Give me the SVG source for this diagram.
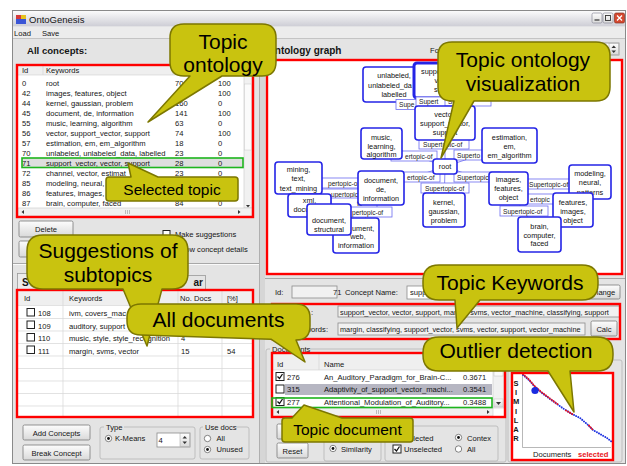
<svg xmlns="http://www.w3.org/2000/svg" width="627" height="466" viewBox="0 0 627 466">
<defs>
<linearGradient id="tbar" x1="0" y1="0" x2="0" y2="1"><stop offset="0" stop-color="#fbfbfb"/><stop offset="1" stop-color="#cdcdd5"/></linearGradient>
<linearGradient id="btn" x1="0" y1="0" x2="0" y2="1"><stop offset="0" stop-color="#fdfdfd"/><stop offset="1" stop-color="#d9d9d9"/></linearGradient>
<clipPath id="kw1"><rect x="338" y="306" width="281" height="11"/></clipPath>
<clipPath id="kw2"><rect x="338" y="323" width="247" height="12"/></clipPath>
</defs>
<style>
text{font-family:"Liberation Sans",Arial,Helvetica,sans-serif;fill:#151515}
.ui{font-size:7.6px}
.b{font-weight:bold}
.red{fill:none;stroke:#f00;stroke-width:2.4}
.grn{fill:none;stroke:#1db51d;stroke-width:1.6}
.hdr{fill:#efefef}
.grid{stroke:#d6d6d6;stroke-width:0.7}
.btn{fill:url(#btn);stroke:#7a7a7a;stroke-width:0.8}
.grp{fill:none;stroke:#b4b4b4;stroke-width:0.8}
.chk{fill:#fff;stroke:#222;stroke-width:1}
.tick{fill:none;stroke:#111;stroke-width:1.3}
.rad{fill:#fff;stroke:#666;stroke-width:0.8}
.dot{fill:#111}
.sb{fill:#f1f1f1;stroke:#c8c8c8;stroke-width:0.6}
.node{fill:#fff;stroke:#2424e6;stroke-width:1.6}
.sel{stroke-width:3}
.nt{font-size:7.3px;text-anchor:middle;fill:#111}
.ns{font-size:7.3px;fill:#111}
.lab{fill:#fff;stroke:#6c6cf0;stroke-width:0.8}
.lt{font-size:6.6px;fill:#222}
.edge{stroke:#6c6cf0;stroke-width:0.8;fill:none}
.callout{fill:#c9c30f;stroke:#7c7700;stroke-width:1.5;stroke-linejoin:round}
.ct{font-size:21px;text-anchor:middle;fill:#000}
.cs{font-size:15.5px;text-anchor:middle;fill:#000}
</style>

<rect width="627" height="466" fill="#fff"/>

<!-- application window -->
<g id="window">
  <rect x="12.5" y="10.5" width="613" height="453" fill="#e4e4e4" stroke="#8a8a8a"/>
  <rect x="13" y="11" width="612" height="15.5" fill="url(#tbar)"/>
  <rect x="16" y="15" width="5" height="4" fill="#d43a3a"/>
  <rect x="21" y="15" width="5" height="4" fill="#e6c11e"/>
  <rect x="16" y="19" width="10" height="5" fill="#3a55d6"/>
  <text x="29" y="22.5" font-size="9.5">OntoGenesis</text>
  <rect x="592" y="13" width="10" height="10" rx="1.5" fill="url(#btn)" stroke="#8a8a9a" stroke-width="0.7"/>
  <line x1="594.5" y1="20" x2="599.5" y2="20" stroke="#333" stroke-width="1.2"/>
  <rect x="603" y="13" width="10" height="10" rx="1.5" fill="url(#btn)" stroke="#8a8a9a" stroke-width="0.7"/>
  <rect x="605.5" y="15.5" width="5" height="5" fill="none" stroke="#333" stroke-width="0.9"/>
  <rect x="614.5" y="13" width="10" height="10" rx="1.5" fill="#d5482f" stroke="#8a3020" stroke-width="0.7"/>
  <path d="M617 15.5 L622 20.5 M622 15.5 L617 20.5" stroke="#fff" stroke-width="1.3"/>
  <rect x="13" y="26.5" width="612" height="12" fill="#ececec"/>
  <text class="ui" x="14" y="35.5">Load</text>
  <text class="ui" x="42" y="35.5">Save</text>
  <line x1="13" y1="38.5" x2="625" y2="38.5" stroke="#c4c4c4"/>
  <rect x="259" y="39" width="6" height="424" fill="#d6d6d6"/>
  <line x1="259.5" y1="39" x2="259.5" y2="463" stroke="#a4a4a4" stroke-width="0.8"/>
  <line x1="13" y1="263.5" x2="259" y2="263.5" stroke="#a8a8a8"/>
  <line x1="13" y1="264.5" x2="259" y2="264.5" stroke="#fafafa"/>
  <line x1="265" y1="278.5" x2="625" y2="278.5" stroke="#a8a8a8"/>
</g>

<!-- concept table -->
<g id="concepts">
  <text x="27" y="54" font-size="9.6" class="b">All concepts:</text>
  <rect x="18" y="66" width="234" height="150" fill="#fff"/>
  <rect class="hdr" x="18" y="66" width="226" height="9"/>
  <path class="grid" d="M43 66 V75 M173 66 V75 M215 66 V75 M18 75 H244"/>
  <text class="ui" x="22" y="73">Id</text>
  <text class="ui" x="46" y="73">Keywords</text>
  <rect x="22" y="158" width="221" height="9.5" fill="#dedede"/>
  <g class="ui">
    <text x="22" y="85.5">0</text><text x="46" y="85.5">root</text><text x="175" y="85.5">70</text><text x="218" y="85.5">100</text>
    <text x="22" y="95.5">42</text><text x="46" y="95.5">images, features, object</text><text x="218" y="95.5">100</text>
    <text x="22" y="105.5">44</text><text x="46" y="105.5">kernel, gaussian, problem</text><text x="175" y="105.5">160</text><text x="218" y="105.5">0</text>
    <text x="22" y="115.5">45</text><text x="46" y="115.5">document, de, information</text><text x="175" y="115.5">141</text><text x="218" y="115.5">100</text>
    <text x="22" y="125.5">55</text><text x="46" y="125.5">music, learning, algorithm</text><text x="175" y="125.5">63</text><text x="218" y="125.5">0</text>
    <text x="22" y="135.5">56</text><text x="46" y="135.5">vector, support_vector, support</text><text x="175" y="135.5">74</text><text x="218" y="135.5">100</text>
    <text x="22" y="145.5">57</text><text x="46" y="145.5">estimation, em, em_algorithm</text><text x="175" y="145.5">18</text><text x="218" y="145.5">0</text>
    <text x="22" y="155.5">70</text><text x="46" y="155.5">unlabeled, unlabeled_data, labelled</text><text x="175" y="155.5">23</text><text x="218" y="155.5">0</text>
    <text x="22" y="165.5">71</text><text x="46" y="165.5">support_vector, vector, support</text><text x="175" y="165.5">28</text><text x="218" y="165.5">0</text>
    <text x="22" y="175.5">72</text><text x="46" y="175.5">channel, vector, estimat</text><text x="175" y="175.5">23</text><text x="218" y="175.5">0</text>
    <text x="22" y="185.5">85</text><text x="46" y="185.5">modeling, neural, patterns</text>
    <text x="22" y="195.5">86</text><text x="46" y="195.5">features, images, object</text>
    <text x="22" y="205.5">87</text><text x="46" y="205.5">brain, computer, faced</text><text x="175" y="205.5">84</text><text x="218" y="205.5">0</text>
  </g>
  <rect class="sb" x="244" y="66" width="8" height="142"/>
  <rect x="244.5" y="84" width="7" height="66" fill="#fbfbfb" stroke="#c8c8c8" stroke-width="0.5"/>
  <path d="M246 205 L250 205 L248 207.5 Z" fill="#333"/>
  <rect class="sb" x="18" y="208" width="234" height="8"/>
  <path d="M24 210 L24 214 L21.5 212 Z M238 210 L238 214 L240.5 212 Z" fill="#333"/>
  <path d="M125.5 210 V214 M127.5 210 V214 M129.5 210 V214" stroke="#999" stroke-width="0.6"/>
  <rect class="red" x="17" y="65" width="236" height="152"/>
  <rect class="grn" x="22" y="158" width="221" height="9.5"/>
  <rect class="btn" x="19" y="221" width="54" height="16" rx="1.5"/>
  <text class="ui" x="46" y="232" text-anchor="middle">Delete</text>
  <rect class="btn" x="19" y="241" width="54" height="16" rx="1.5"/>
  <rect class="chk" x="163" y="230.5" width="7" height="7"/>
  <text class="ui" x="175" y="237">Make suggestions</text>
  <rect class="chk" x="163" y="245.5" width="7" height="7"/>
  <text class="ui" x="176" y="252">Show concept details</text>
</g>

<!-- subtopic suggestions -->
<g id="suggestions">
  <rect x="17.5" y="273.5" width="92" height="17" fill="#ececec" stroke="#9a9a9a" stroke-width="0.8"/>
  <rect x="150.5" y="275.5" width="55" height="15" fill="#e4e4e4" stroke="#9a9a9a" stroke-width="0.8"/>
  <text x="22" y="286" font-size="10" class="b">S</text>
  <text x="203" y="286" font-size="10" class="b" text-anchor="end">ar</text>
  <rect x="18" y="291" width="234" height="125" fill="#fff"/>
  <rect class="hdr" x="18" y="291" width="234" height="14"/>
  <path class="grid" d="M63 291 V416 M178 291 V416 M222 291 V416 M18 305.5 H252 M18 318.5 H252 M18 331 H252 M18 343.5 H252 M18 356 H252 M18 368.5 H252 M18 381 H252 M18 393.5 H252 M18 406 H252"/>
  <g class="ui">
    <text x="24" y="301">Id</text><text x="69" y="301">Keywords</text><text x="180" y="301">No. Docs</text><text x="227" y="301">[%]</text>
    <text x="38" y="316">108</text><text x="69" y="316">ivm, covers_mac</text>
    <text x="38" y="328.5">109</text><text x="69" y="328.5">auditory, support</text>
    <text x="38" y="341">110</text><text x="69" y="341">music, style, style_recognition</text><text x="181" y="341">4</text>
    <text x="38" y="353.5">111</text><text x="69" y="353.5">margin, svms, vector</text><text x="181" y="353.5">15</text><text x="227" y="353.5">54</text>
  </g>
  <rect class="chk" x="27" y="308.5" width="7.5" height="7.5"/>
  <rect class="chk" x="27" y="321" width="7.5" height="7.5"/>
  <rect class="chk" x="27" y="333.5" width="7.5" height="7.5"/>
  <rect class="chk" x="27" y="346" width="7.5" height="7.5"/>
  <rect class="red" x="17" y="290" width="236" height="127"/>
  <rect class="btn" x="23" y="425" width="67" height="15" rx="1.5"/>
  <text class="ui" x="56.5" y="435.5" text-anchor="middle">Add Concepts</text>
  <rect class="btn" x="23" y="445" width="67" height="15" rx="1.5"/>
  <text class="ui" x="56.5" y="455.5" text-anchor="middle">Break Concept</text>
  <rect class="grp" x="100" y="427" width="95" height="32" rx="2"/>
  <rect x="104" y="423" width="20" height="8" fill="#e4e4e4"/>
  <text class="ui" x="106" y="429.5">Type</text>
  <circle class="rad" cx="108.5" cy="438.5" r="3.2"/><circle class="dot" cx="108.5" cy="438.5" r="1.4"/>
  <text class="ui" x="115" y="441">K-Means</text>
  <rect x="157" y="433" width="33" height="14" fill="#fff" stroke="#8c8c8c" stroke-width="0.8"/>
  <text class="ui" x="158.5" y="443">4</text>
  <rect x="180" y="433.5" width="9.5" height="13" fill="url(#btn)" stroke="#a0a0a0" stroke-width="0.5"/>
  <path d="M182.5 438.5 L187 438.5 L184.75 436 Z M182.5 441.5 L187 441.5 L184.75 444 Z" fill="#333"/>
  <rect class="grp" x="200" y="427" width="49" height="32" rx="2"/>
  <rect x="203" y="423" width="33" height="8" fill="#e4e4e4"/>
  <text class="ui" x="205" y="429.5">Use docs</text>
  <circle class="rad" cx="207.5" cy="438.5" r="3.2"/>
  <text class="ui" x="216.5" y="441">All</text>
  <circle class="rad" cx="207.5" cy="449.5" r="3.2"/><circle class="dot" cx="207.5" cy="449.5" r="1.4"/>
  <text class="ui" x="216.5" y="452">Unused</text>
</g>

<!-- ontology graph panel -->
<g id="graph-panel">
  <text x="267" y="53.5" font-size="10" class="b">Ontology graph</text>
  <text class="ui" x="430" y="53">Fo</text>
  <rect x="570" y="43" width="49" height="12" fill="#fff" stroke="#8c8c8c" stroke-width="0.8"/>
  <rect x="609" y="43.5" width="9.5" height="11" fill="url(#btn)" stroke="#a0a0a0" stroke-width="0.5"/>
  <path d="M611.5 48 L616 48 L613.75 45.5 Z M611.5 50.5 L616 50.5 L613.75 53 Z" fill="#333"/>
  <rect x="267" y="60" width="355" height="214" fill="#fff"/>
</g>

<!-- connectors between topics -->
<g id="connectors">
  <g class="edge">
    <line x1="445" y1="166.5" x2="381.5" y2="143.5"/>
    <line x1="445" y1="166.5" x2="509.5" y2="145.5"/>
    <line x1="445" y1="166.5" x2="445" y2="123"/>
    <line x1="445" y1="123" x2="448" y2="80.5"/>
    <line x1="445" y1="123" x2="394" y2="84.5"/>
    <line x1="445" y1="166.5" x2="381" y2="188"/>
    <line x1="445" y1="166.5" x2="444" y2="210"/>
    <line x1="445" y1="166.5" x2="508.5" y2="188.5"/>
    <line x1="381" y1="188" x2="298.5" y2="178"/>
    <line x1="381" y1="188" x2="309.5" y2="200"/>
    <line x1="381" y1="188" x2="329" y2="219.5"/>
    <line x1="381" y1="188" x2="356" y2="235.5"/>
    <line x1="508.5" y1="188.5" x2="590" y2="182"/>
    <line x1="508.5" y1="188.5" x2="573" y2="210"/>
    <line x1="508.5" y1="188.5" x2="539.5" y2="234.5"/>
  </g>
  <g id="edge-labels">
    <rect class="lab" x="391" y="151" width="46" height="10"/><text class="lt" x="405" y="158.5">ertopic-of</text>
    <rect class="lab" x="454" y="150" width="46" height="10"/><text class="lt" x="457" y="157.5">Superto</text>
    <rect class="lab" x="419" y="139" width="50" height="10"/><text class="lt" x="423" y="146.5">Supertopic-of</text>
    <rect class="lab" x="393" y="172" width="47" height="10"/><text class="lt" x="407" y="179.5">ertopic-of</text>
    <rect class="lab" x="454" y="172" width="46" height="10"/><text class="lt" x="457" y="179.5">Supertopic</text>
    <rect class="lab" x="421" y="183" width="48" height="10"/><text class="lt" x="425" y="190.5">Supertopic-of</text>
    <rect class="lab" x="318" y="178" width="46" height="10"/><text class="lt" x="328" y="185.5">pertopic-o</text>
    <rect class="lab" x="320" y="189" width="44" height="10"/><text class="lt" x="331" y="196.5">upertopic-</text>
    <rect class="lab" x="331" y="198" width="46" height="10"/><text class="lt" x="357" y="205.5">to</text>
    <rect class="lab" x="340" y="207" width="52" height="10"/><text class="lt" x="352" y="214.5">pertopic-of</text>
    <rect class="lab" x="526" y="179" width="46" height="10"/><text class="lt" x="529" y="186.5">Supertopic-of</text>
    <rect class="lab" x="515" y="194" width="45" height="10"/><text class="lt" x="530" y="201.5">ertopic</text>
    <rect class="lab" x="500" y="206" width="48" height="10"/><text class="lt" x="503" y="213.5">Supertopic-of</text>
  </g>
</g>

<!-- topic nodes -->
<g id="n-music"><rect class="node" x="361" y="128" width="41" height="31" rx="3"/><text class="nt" x="381.5" y="139.5">music,</text><text class="nt" x="381.5" y="148.5">learning,</text><text class="nt" x="381.5" y="157">algorithm</text></g>
<g id="n-estimation"><rect class="node" x="482" y="128" width="55" height="35" rx="3"/><text class="nt" x="509.5" y="139.5">estimation,</text><text class="nt" x="509.5" y="148.5">em,</text><text class="nt" x="509.5" y="157.5">em_algorithm</text></g>
<g id="n-unlabeled"><rect class="node" x="363" y="67" width="62" height="35" rx="3"/><text class="nt" x="394" y="78">unlabeled,</text><text class="nt" x="390" y="87.5">unlabeled_da</text><text class="nt" x="394" y="97">labelled</text></g>
<g id="l-unlabeled"><rect class="lab" x="396" y="99.5" width="46" height="10"/><text class="lt" x="399" y="106.5">Supe</text></g>
<g id="n-support-vector"><rect class="node sel" x="414" y="63" width="68" height="35" rx="3"/><text class="ns" x="421" y="73.5">suppo</text><text class="ns" x="434.5" y="82.5">v</text><text class="ns" x="434" y="91.5">s</text></g>
<g id="l-support-vector"><rect class="lab" x="416" y="97" width="46" height="9.5"/><text class="lt" x="419" y="104">Supert</text>
<rect class="lab" x="445" y="96.5" width="46" height="9.5"/><text class="lt" x="448" y="103.5">Supe</text></g>
<g id="n-vector"><rect class="node" x="415" y="106" width="60" height="34" rx="3"/><text class="nt" x="445" y="116.5">vector,</text><text class="nt" x="445" y="125.5">support_vector,</text><text class="nt" x="445" y="135">support</text></g>
<g id="n-root"><rect class="node" x="433" y="159" width="24" height="15" rx="3"/><text class="nt" x="445" y="169">root</text></g>
<g id="n-mining"><rect class="node" x="275" y="162" width="47" height="32" rx="3"/><text class="nt" x="298.5" y="171.5">mining,</text><text class="nt" x="298.5" y="181">text,</text><text class="nt" x="298.5" y="190.5">text_mining</text></g>
<g id="n-xml"><rect class="node" x="288" y="194" width="43" height="23" rx="3"/><text class="nt" x="309.5" y="202.5">xml,</text><text class="nt" x="309.5" y="211.5">document</text></g>
<g id="n-web"><rect class="node" x="333" y="218" width="46" height="35" rx="3"/><text class="ns" x="352" y="230.5">ument,</text><text class="nt" x="358" y="239">web,</text><text class="nt" x="356" y="247.5">information</text></g>
<g id="n-structural"><rect class="node" x="307" y="204" width="44" height="31" rx="3"/><text class="nt" x="329" y="222.5">document,</text><text class="nt" x="329" y="231.5">structural</text></g>
<g id="n-document"><rect class="node" x="358" y="171" width="46" height="34" rx="3"/><text class="nt" x="381" y="182.5">document,</text><text class="nt" x="381" y="191.5">de,</text><text class="nt" x="381" y="200.5">information</text></g>
<g id="n-kernel"><rect class="node" x="423" y="193" width="42" height="34" rx="3"/><text class="nt" x="444" y="204.5">kernel,</text><text class="nt" x="444" y="213.5">gaussian,</text><text class="nt" x="444" y="222.5">problem</text></g>
<g id="n-modeling"><rect class="node" x="569" y="165" width="42" height="34" rx="3"/><text class="nt" x="590" y="175.5">modeling,</text><text class="nt" x="590" y="185">neural,</text><text class="nt" x="590" y="194.5">patterns</text></g>
<g id="n-images"><rect class="node" x="489" y="172" width="39" height="33" rx="3"/><text class="nt" x="508.5" y="181.5">images,</text><text class="nt" x="508.5" y="190.5">features,</text><text class="nt" x="508.5" y="200">object</text></g>
<g id="n-features"><rect class="node" x="553" y="193" width="40" height="34" rx="3"/><text class="nt" x="573" y="204.5">features,</text><text class="nt" x="573" y="213.5">images,</text><text class="nt" x="573" y="222.5">object</text></g>
<g id="n-brain"><rect class="node" x="518" y="217" width="43" height="35" rx="3"/><text class="nt" x="539.5" y="228.5">brain,</text><text class="nt" x="539.5" y="237.5">computer,</text><text class="nt" x="539.5" y="246">faced</text></g>
<rect class="red" x="267" y="60" width="355" height="214"/>

<!-- concept details -->
<g id="details">
  <text class="ui" x="275" y="294.5">Id:</text>
  <rect x="292" y="286" width="45" height="12" fill="#f1f1f1" stroke="#8c8c8c" stroke-width="0.8"/>
  <text class="ui" x="333" y="295">71</text>
  <text class="ui" x="345" y="294.5">Concept Name:</text>
  <rect x="407" y="286" width="163" height="13" fill="#fff" stroke="#8c8c8c" stroke-width="0.8"/>
  <text class="ui" x="410" y="295">supp</text>
  <rect class="btn" x="574" y="285" width="46" height="14" rx="1.5"/>
  <text class="ui" x="602" y="295" text-anchor="middle">Change</text>
  <text class="ui" x="313" y="314.5" text-anchor="end">:</text>
  <rect x="338" y="306" width="282" height="11" fill="#f1f1f1" stroke="#8c8c8c" stroke-width="0.8"/>
  <text x="340" y="314.5" font-size="7.3" clip-path="url(#kw1)">support_vector, vector, support, margin, svms, vector_machine, classifying, support</text>
  <text class="ui" x="328" y="332" text-anchor="end">Keywords:</text>
  <rect x="338" y="323" width="247" height="12" fill="#f1f1f1" stroke="#8c8c8c" stroke-width="0.8"/>
  <text x="340" y="332" font-size="7.3" clip-path="url(#kw2)">margin, classifying, support_vector, svms, vector, support, vector_machine</text>
  <rect class="btn" x="591" y="321" width="26" height="15" rx="1.5"/>
  <text class="ui" x="604" y="331.5" text-anchor="middle">Calc</text>
  <rect class="red" x="272" y="304" width="348" height="35"/>
</g>

<!-- document list -->
<g id="documents">
  <rect class="grp" x="266" y="349" width="240" height="113" rx="2"/>
  <rect x="270" y="345" width="40" height="8" fill="#e4e4e4"/>
  <text class="ui" x="272" y="352">Documents</text>
  <rect x="273" y="354" width="232" height="63" fill="#fff"/>
  <rect class="hdr" x="273" y="354" width="232" height="16"/>
  <path class="grid" d="M319 354 V370 M273 370 H505"/>
  <text class="ui" x="277" y="366.5">Id</text>
  <text class="ui" x="324" y="366.5">Name</text>
  <rect x="285" y="384" width="207" height="11" fill="#b6b6c2"/>
  <g class="ui">
    <text x="287" y="379.5">276</text><text x="324" y="379.5">An_Auditory_Paradigm_for_Brain-C...</text><text x="463" y="379.5">0.3671</text>
    <text x="287" y="392">315</text><text x="324" y="392">Adaptivity_of_support_vector_machi...</text><text x="463" y="392">0.3541</text>
    <text x="287" y="404.5">277</text><text x="324" y="404.5">Attentional_Modulation_of_Auditory...</text><text x="463" y="404.5">0.3488</text>
  </g>
  <rect class="chk" x="276" y="372.5" width="8" height="8"/><path class="tick" d="M277.5 376.5 l2 2 l3 -4.5"/>
  <rect class="chk" x="276" y="385" width="8" height="8"/>
  <rect class="chk" x="276" y="397.5" width="8" height="8"/><path class="tick" d="M277.5 401.5 l2 2 l3 -4.5"/>
  <rect class="sb" x="493" y="370" width="11" height="38"/>
  <rect x="494" y="371" width="9" height="5" fill="#fbfbfb" stroke="#c0c0c0" stroke-width="0.5"/>
  <rect x="494" y="399" width="9" height="8" fill="url(#btn)" stroke="#c0c0c0" stroke-width="0.5"/>
  <path d="M496 402 L501 402 L498.5 405 Z" fill="#333"/>
  <rect class="sb" x="273" y="408" width="220" height="8"/>
  <path d="M279 410 L279 414 L276.5 412 Z M487 410 L487 414 L489.5 412 Z" fill="#333"/>
  <path d="M376.5 410 V414 M378.5 410 V414 M380.5 410 V414" stroke="#999" stroke-width="0.6"/>
  <rect class="red" x="272" y="353" width="233" height="64"/>
  <rect class="grn" x="272" y="398" width="220" height="9.5"/>
  <rect class="btn" x="277" y="424" width="31" height="15" rx="1.5"/>
  <rect class="btn" x="277" y="443" width="31" height="15" rx="1.5"/>
  <text class="ui" x="292.5" y="453.5" text-anchor="middle">Reset</text>
  <rect class="grp" x="324" y="426" width="57" height="35" rx="2"/>
  <circle class="rad" cx="333" cy="448.5" r="3.2"/><circle class="dot" cx="333" cy="448.5" r="1.4"/>
  <text class="ui" x="341" y="451.5">Similarity</text>
  <rect class="grp" x="385" y="426" width="113" height="35" rx="2"/>
  <rect class="chk" x="393" y="433.5" width="8" height="8"/><path class="tick" d="M394.5 437.5 l2 2 l3 -4.5"/>
  <text class="ui" x="404" y="440.5">Selected</text>
  <rect class="chk" x="393" y="445" width="8" height="8"/><path class="tick" d="M394.5 449 l2 2 l3 -4.5"/>
  <text class="ui" x="404" y="452">Unselected</text>
  <circle class="rad" cx="458.5" cy="437.5" r="3.2"/><circle class="dot" cx="458.5" cy="437.5" r="1.4"/>
  <text class="ui" x="467" y="440.5">Contex</text>
  <circle class="rad" cx="458.5" cy="449" r="3.2"/>
  <text class="ui" x="467" y="452">All</text>
</g>

<!-- similarity plot -->
<g id="outliers">
  <rect class="grp" x="508" y="360" width="114" height="102" rx="2"/>
  <rect x="512" y="373" width="101" height="87" fill="#fff"/>
  <path d="M522.5 375 V447.5 H611" fill="none" stroke="#9a9a9a" stroke-width="0.7"/>
  <g font-size="7.5" class="b" text-anchor="middle">
    <text x="516" y="386">S</text><text x="516" y="395">I</text><text x="516" y="404">M</text><text x="516" y="413.5">I</text><text x="516" y="422.5">L</text><text x="516" y="431.5">A</text><text x="516" y="441">R</text>
  </g>
  <polyline points="523,375 529,380 535,387 542,393 550,399 557,404 564,409 572,414 580,418 587,424 593,430 600,434 607,438 612,442" fill="none" stroke="#1f33e0" stroke-width="2" stroke-linecap="round" stroke-dasharray="0.01 2.4"/>
  <polyline points="523,374 529,379.5 535,386.5 542,392.5 550,398.5 558,404.5" fill="none" stroke="#e8141c" stroke-width="2" stroke-linecap="round" stroke-dasharray="0.01 2.4"/>
  <polyline points="566,410.5 573,414.5" fill="none" stroke="#e8141c" stroke-width="2" stroke-linecap="round" stroke-dasharray="0.01 2.4"/>
  <polyline points="589,425.5 593,430" fill="none" stroke="#e8141c" stroke-width="2" stroke-linecap="round" stroke-dasharray="0.01 2.4"/>
  <circle cx="535" cy="390.5" r="3.6" fill="#1a2be0"/>
  <text class="ui" x="533" y="457">Documents</text>
  <text class="ui b" x="578" y="457" style="fill:#e8141c">selected</text>
  <rect class="red" x="512" y="373" width="101" height="87"/>
</g>

<!-- annotation callouts -->
<g id="callout-topic-ontology">
  <path class="callout" d="M184,24 H262 Q276,24 276,38 V62 Q276,76 262,76 H222 L148,122 L190,76 H184 Q170,76 170,62 V38 Q170,24 184,24 Z"/>
  <text class="ct" x="223" y="48.5">Topic</text>
  <text class="ct" x="223" y="72">ontology</text>
</g>
<g id="callout-selected-topic">
  <path class="callout" d="M109,177 H131 L128,163 L158,177 H235 Q238,177 238,180 V198 Q238,201 235,201 H109 Q106,201 106,198 V180 Q106,177 109,177 Z"/>
  <text class="cs" x="172" y="195">Selected topic</text>
</g>
<g id="callout-suggestions">
  <path class="callout" d="M43,235 H172 Q188,235 188,251 V273 Q188,289 172,289 H162 L147,346 L123,289 H43 Q27,289 27,273 V251 Q27,235 43,235 Z"/>
  <text class="ct" x="108" y="258">Suggestions of</text>
  <text class="ct" x="108" y="282">subtopics</text>
</g>
<g id="callout-all-documents">
  <path class="callout" d="M141,304 H296 Q310,304 310,318 V326 Q310,340 296,340 L305,362 L271,339.2 L141,335 Q127,335 127,321 V318 Q127,304 141,304 Z"/>
  <text class="ct" x="218.5" y="327">All documents</text>
</g>
<g id="callout-visualization">
  <path class="callout" d="M452,42 H596 Q610,42 610,56 V87 Q610,101 596,101 H474 L441,158 L454,101 H452 Q438,101 438,87 V56 Q438,42 452,42 Z"/>
  <text class="ct" x="523" y="67">Topic ontology</text>
  <text class="ct" x="523" y="91">visualization</text>
</g>
<g id="callout-keywords">
  <path class="callout" d="M439,265 H582 Q598,265 598,281 V284 Q598,300 582,300 H480 L457,328 L455,300 H439 Q423,300 423,284 V281 Q423,265 439,265 Z"/>
  <text class="ct" x="510" y="289.5">Topic Keywords</text>
</g>
<g id="callout-outlier">
  <path class="callout" d="M439,337 H597 Q613,337 613,353 V355 Q613,371 597,371 H570 L574,412 L548,371 H439 Q423,371 423,355 V353 Q423,337 439,337 Z"/>
  <text class="ct" x="516" y="358">Outlier detection</text>
</g>
<g id="callout-topic-document">
  <path class="callout" d="M285,418 H292 L304,405 L342,418 H410 Q413,418 413,421 V439 Q413,442 410,442 H285 Q282,442 282,439 V421 Q282,418 285,418 Z"/>
  <text class="cs" x="347.5" y="435">Topic document</text>
</g>
</svg>
